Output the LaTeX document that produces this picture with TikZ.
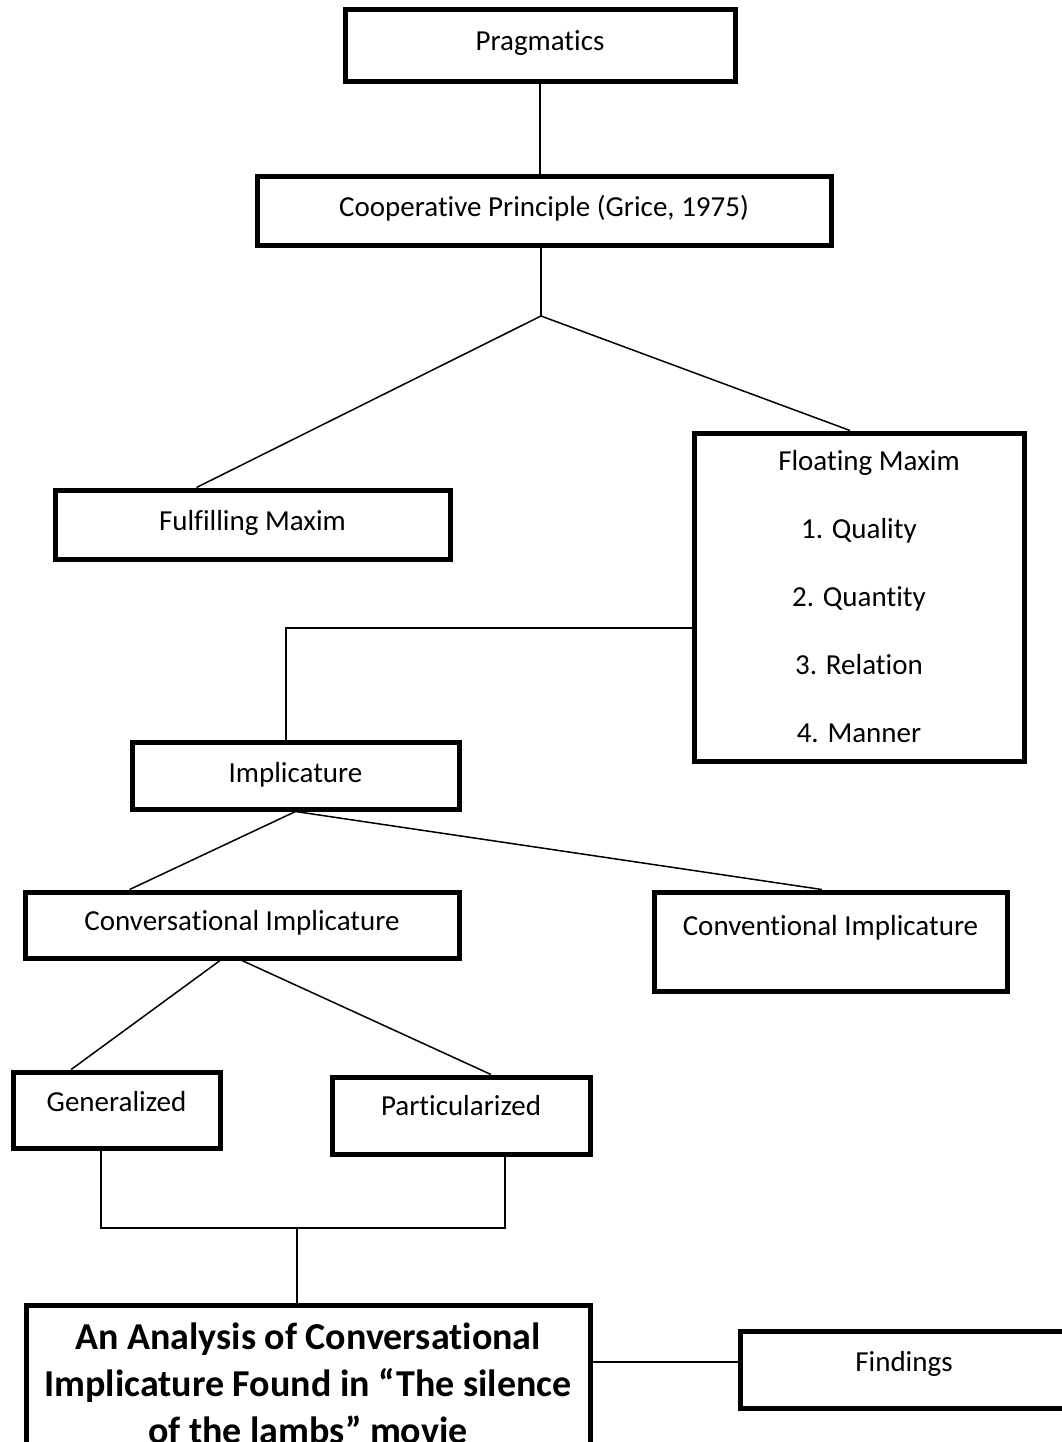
\documentclass[tikz,border=0pt]{standalone}
\usepackage{fontspec}
\setmainfont[Ligatures={TeX,NoCommon}]{Carlito}
\usetikzlibrary{calc}
\begin{document}
\begin{tikzpicture}[x=1pt,y=-1pt,
  box/.style={draw, rectangle, line width=5pt, inner sep=0pt, font=\fontsize{29}{35}\selectfont},
  conn/.style={line width=1.5pt}]
\useasboundingbox (0,0) rectangle (1062,1442);
\clip (0,0) rectangle (1062,1442);

\node[box, minimum width=390pt, text height=41pt, text depth=31pt] (prag) at (540,46) {Pragmatics};
\node[box, minimum width=574pt, text height=39pt, text depth=29pt] (coop) at (544,211) {Cooperative Principle (Grice, 1975)};
\node[box, minimum width=395pt, text height=40pt, text depth=29pt] (ful) at (252.5,524.5) {Fulfilling Maxim};
\node[box, minimum width=330pt, minimum height=328pt, align=center, font=\fontsize{29}{68}\selectfont] (flo) at (859,597)
  {\hspace*{20pt}Floating Maxim\\1. Quality\\2. Quantity\\3. Relation\\4. Manner};
\node[box, minimum width=327pt, text height=40pt, text depth=27pt] (imp) at (295.5,775.5) {Implicature};
\node[box, minimum width=434pt, text height=38pt, text depth=28pt] (conv) at (242,925) {Conversational Implicature};
\node[box, minimum width=353pt, text height=43pt, text depth=56pt] (cnvt) at (830.5,941.5) {Conventional Implicature};
\node[box, minimum width=207pt, text height=39pt, text depth=37pt] (gen) at (116.5,1110) {Generalized};
\node[box, minimum width=258pt, text height=38pt, text depth=39pt] (part) at (461,1115.5) {Particularized};
\node[box, minimum width=328pt, text height=40pt, text depth=37pt] (fnd) at (904,1369.5) {Findings};
\node[box, anchor=north, minimum width=564pt, align=center, inner ysep=18pt,
  font=\bfseries\fontsize{38}{47}\selectfont] (title) at (308,1302.5)
  {An Analysis of Conversational\\Implicature Found in “The silence\\of the lambs” movie};

\coordinate (fork) at (541,316);
\coordinate (bus) at (297,1228);
\coordinate (gb) at ($(gen.south west)!0.427!(gen.south east)$);
\coordinate (pb) at ($(part.south west)!0.668!(part.south east)$);
\coordinate (fw) at ($(fnd.north west)!0.41!(fnd.south west)$);

\draw[conn] (prag.south) -- (prag.south |- coop.north);
\draw[conn] (coop.south -| fork) -- (fork);
\draw[conn] (fork) -- ($(ful.north west)!0.36!(ful.north east)$);
\draw[conn] (fork) -- ($(flo.north west)!0.473!(flo.north east)$);
\draw[conn] ($(flo.north west)!0.593!(flo.south west)$) -| ($(imp.north west)!0.472!(imp.north east)$);
\draw[conn] (imp.south) -- ($(conv.north west)!0.244!(conv.north east)$);
\draw[conn] (imp.south) -- ($(cnvt.north west)!0.476!(cnvt.north east)$);
\draw[conn] ($(conv.south west)!0.45!(conv.south east)$) -- ($(gen.north west)!0.286!(gen.north east)$);
\draw[conn] (conv.south) -- ($(part.north west)!0.614!(part.north east)$);
\draw[conn] (gb) -- (gb |- bus) -- (pb |- bus) -- (pb);
\draw[conn] (bus) -- (bus |- title.north);
\draw[conn] (title.east |- fw) -- (fw);
\end{tikzpicture}
\end{document}
